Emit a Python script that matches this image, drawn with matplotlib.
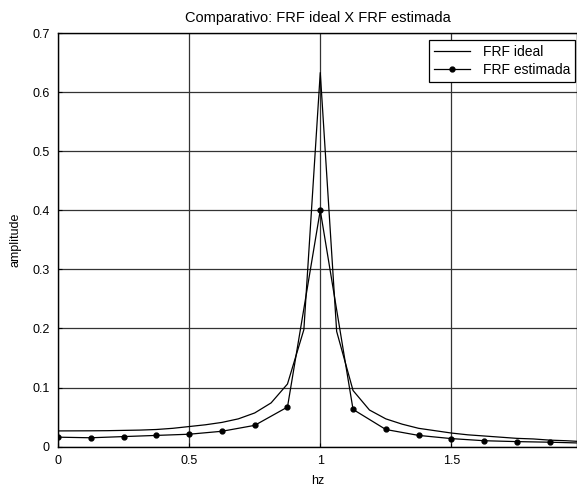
import matplotlib.pyplot as plt

plt.rcParams['font.family'] = ['Liberation Sans', 'DejaVu Sans']

# ideal FRF, sampled every 1/16 Hz
freq_ideal = [i / 16 for i in range(33)]
amp_ideal = [0.0266, 0.0267, 0.0268, 0.0270, 0.0275, 0.0280, 0.0290, 0.0310,
             0.0340, 0.0370, 0.0410, 0.0470, 0.0570, 0.0740, 0.1060, 0.1980,
             0.6330, 0.1950, 0.0950, 0.0620, 0.0470, 0.0380, 0.0310, 0.0270,
             0.0230, 0.0200, 0.0180, 0.0160, 0.0140, 0.0130, 0.0110, 0.0100,
             0.0085]

# estimated FRF, sampled every 1/8 Hz
freq_est = [i / 8 for i in range(17)]
amp_est = [0.016, 0.015, 0.017, 0.019, 0.021, 0.026, 0.036, 0.067, 0.400,
           0.063, 0.029, 0.019, 0.0136, 0.010, 0.0085, 0.0075, 0.006]

fig = plt.figure(figsize=(5.77, 4.86), dpi=100)
ax = fig.add_axes([0.1005, 0.081, 0.9, 0.851])

ax.plot(freq_ideal, amp_ideal, color='black', lw=0.9, label='FRF ideal')
ax.plot(freq_est, amp_est, color='black', lw=0.9, marker='o', ms=3.5,
        label='FRF estimada')

ax.set_xlim(0, 1.98)
ax.set_ylim(0, 0.7)
ax.set_xticks([0, 0.5, 1, 1.5])
ax.set_xticklabels(['0', '0.5', '1', '1.5'])
ax.set_yticks([0, 0.1, 0.2, 0.3, 0.4, 0.5, 0.6, 0.7])
ax.set_yticklabels(['0', '0.1', '0.2', '0.3', '0.4', '0.5', '0.6', '0.7'])
ax.tick_params(direction='in', labelsize=9, length=3, width=0.8, pad=6)
ax.grid(True, color='#333333', lw=0.9, ls='-')
for s in ax.spines.values():
    s.set_linewidth(1.0)
    s.set_color('black')

ax.set_title('Comparativo: FRF ideal X FRF estimada', fontsize=10.5, pad=8)
ax.set_xlabel('hz', fontsize=9, labelpad=6)
ax.set_ylabel('amplitude', fontsize=9, labelpad=8)

leg = ax.legend(loc='upper right', fontsize=10, fancybox=False, framealpha=1,
                edgecolor='black', bbox_to_anchor=(575 / 577, 1 - 40 / 486),
                bbox_transform=fig.transFigure, borderaxespad=0,
                handlelength=2.6, handletextpad=0.9,
                borderpad=0.35, labelspacing=0.3)
leg.get_frame().set_linewidth(0.9)

fig.savefig('out.png', dpi=100)
